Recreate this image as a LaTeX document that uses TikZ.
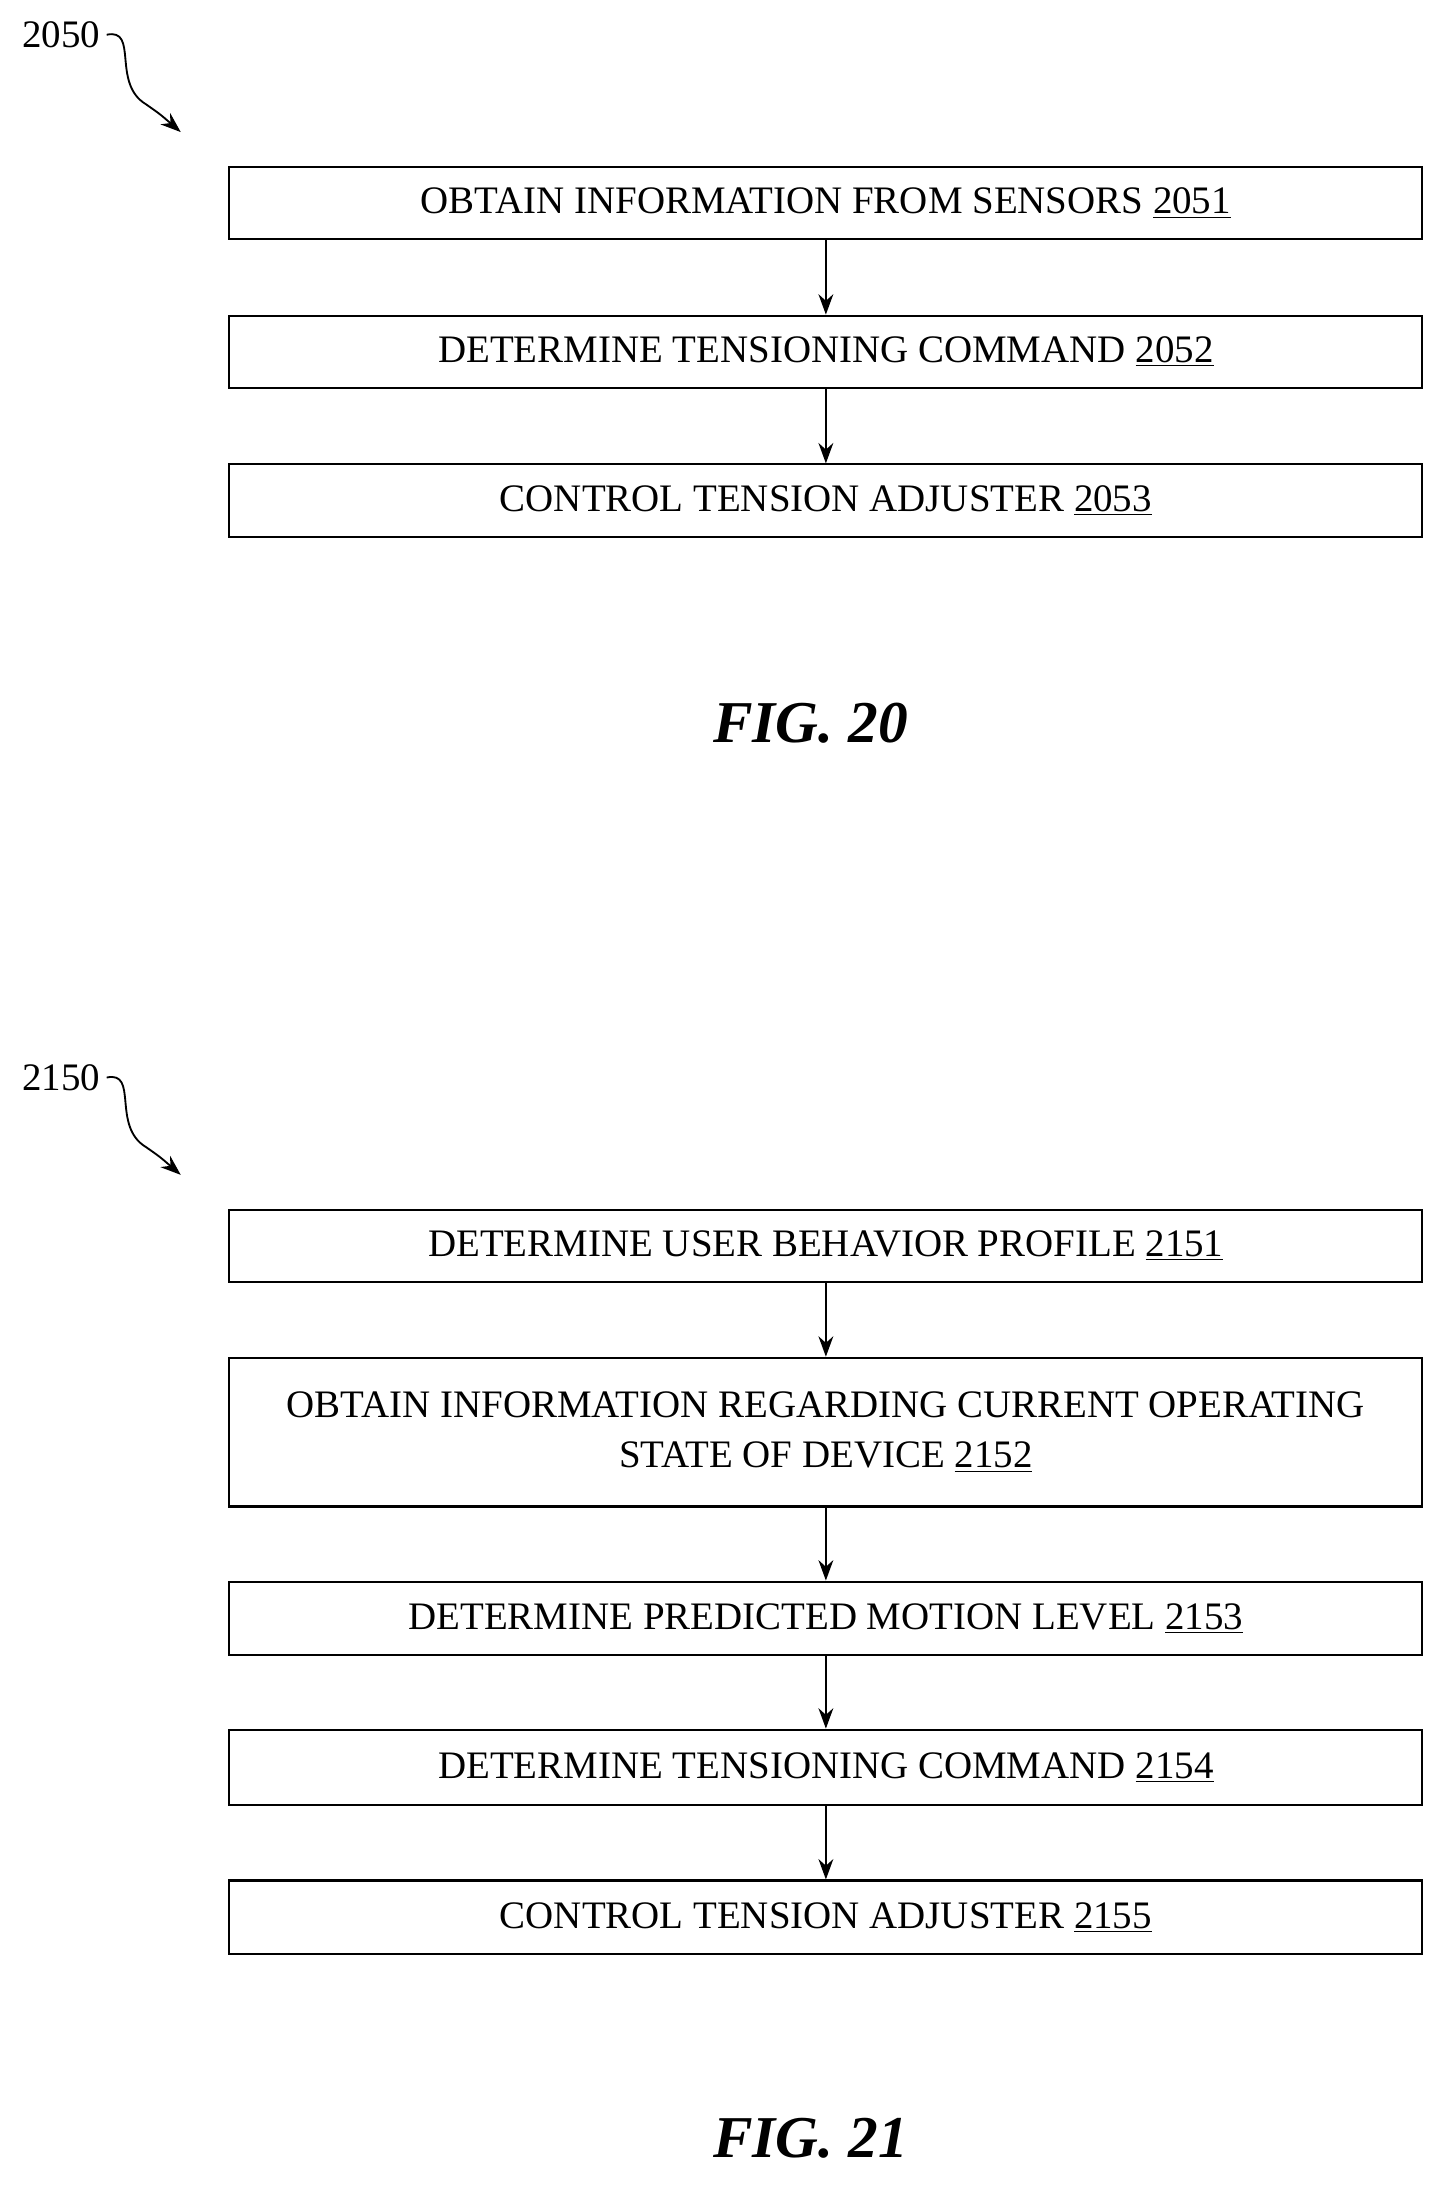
\documentclass[tikz,border=0pt]{standalone}
\usepackage{fontspec}
\setmainfont{Liberation Serif}
\usetikzlibrary{arrows.meta}
\begin{document}
\begin{tikzpicture}[x=0.75pt,y=-0.75pt,
 stepbox/.style={draw,line width=1.1pt,minimum width=858*0.75pt,align=center,font=\fontsize{21}{27}\selectfont,inner sep=0pt},
 arr/.style={-{Stealth[length=11pt,width=8pt]},line width=1pt},
 fig/.style={font=\fontsize{32}{36}\selectfont\bfseries\itshape},
 lab/.style={font=\fontsize{21}{25}\selectfont}]
\useasboundingbox (0,0) rectangle (1046,1578);
\node[stepbox,minimum height=52*0.75pt] (a1) at (594,146) {OBTAIN INFORMATION FROM SENSORS \underline{2051}};
\node[stepbox,minimum height=52*0.75pt] (a2) at (594,253) {DETERMINE TENSIONING COMMAND \underline{2052}};
\node[stepbox,minimum height=52*0.75pt] (a3) at (594,360) {CONTROL TENSION ADJUSTER \underline{2053}};
\draw[arr] (a1) -- (a2);
\draw[arr] (a2) -- (a3);
\node[fig] (f20) at (583,520) {FIG. 20};
\node[lab] (l20) at (44,25) {2050};
\coordinate (e20) at (130,95);
\draw[arr] (l20.east) .. controls (100,20) and (80,60) .. (105,75) .. controls (115,82) .. (e20);

\node[stepbox,minimum height=52*0.75pt] (b1) at (594,896) {DETERMINE USER BEHAVIOR PROFILE \underline{2151}};
\node[stepbox,minimum height=107*0.75pt] (b2) at (594,1030) {OBTAIN INFORMATION REGARDING CURRENT OPERATING\\STATE OF DEVICE \underline{2152}};
\node[stepbox,minimum height=53*0.75pt] (b3) at (594,1164) {DETERMINE PREDICTED MOTION LEVEL \underline{2153}};
\node[stepbox,minimum height=54*0.75pt] (b4) at (594,1271) {DETERMINE TENSIONING COMMAND \underline{2154}};
\node[stepbox,minimum height=53*0.75pt] (b5) at (594,1379) {CONTROL TENSION ADJUSTER \underline{2155}};
\draw[arr] (b1) -- (b2);
\draw[arr] (b2) -- (b3);
\draw[arr] (b3) -- (b4);
\draw[arr] (b4) -- (b5);
\node[fig] (f21) at (583,1538) {FIG. 21};
\node[lab] (l21) at (44,775) {2150};
\coordinate (e21) at (130,845);
\draw[arr] (l21.east) .. controls (100,770) and (80,810) .. (105,825) .. controls (115,832) .. (e21);
\end{tikzpicture}
\end{document}
